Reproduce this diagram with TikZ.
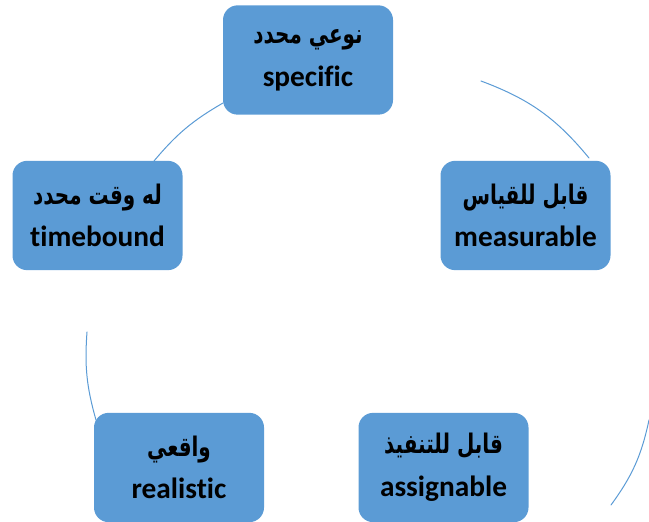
\documentclass[tikz,border=0pt]{standalone}
\usepackage{fontspec}
\usepackage{graphicx}
\setmainfont{Carlito}[Ligatures=NoCommon]
\newfontfamily\arabicfont[Script=Arabic,Scale=0.8]{DejaVu Sans}
\TeXXeTstate=1
\definecolor{boxblue}{HTML}{5B9BD5}
\newcommand\artext[1]{\scalebox{0.85}[1.15]{\arabicfont\beginR #1\endR}}
\tikzset{
  smartbox/.style={fill=boxblue,rounded corners=11pt,minimum width=127.5pt,minimum height=82pt,
    align=center,font=\fontsize{22}{32}\selectfont\bfseries,text=black},
  cycarc/.style={draw=boxblue,line width=0.75pt}
}
\begin{document}
\begin{tikzpicture}[x=0.75pt,y=0.75pt,line cap=round]
  \useasboundingbox (0,0) rectangle (649,521);
  % boxes
  \node[smartbox] (spec) at (308,461) {\artext{نوعي محدد}\\specific};
  \node[smartbox] (meas) at (525.5,305.5) {\artext{قابل للقياس}\\measurable};
  \node[smartbox] (assig) at (443.5,53.5) {\artext{قابل للتنفيذ}\\assignable};
  \node[smartbox] (real) at (179,53.5) {\artext{واقعي}\\realistic};
  \node[smartbox] (timeb) at (97.5,305.5) {\artext{له وقت محدد}\\timebound};
  % arc ends
  \coordinate (a1s) at (481,440);
  \coordinate (a1e) at (589,363);
  \coordinate (a2s) at (649,101);
  \coordinate (a2e) at (611,16);
  \coordinate (a3s) at (96,101);
  \coordinate (a3e) at (87,189);
  \coordinate (a4s) at (154,360);
  \coordinate (a4e) at (223,418);
  % arcs
  \draw[cycarc] (a1s) to[bend left=15] (a1e);
  \draw[cycarc] (a2s) to[bend left=12] (a2e);
  \draw[cycarc] (a3s) to[bend left=10] (a3e);
  \draw[cycarc] (a4s) to[bend left=10] (a4e);
\end{tikzpicture}
\end{document}
